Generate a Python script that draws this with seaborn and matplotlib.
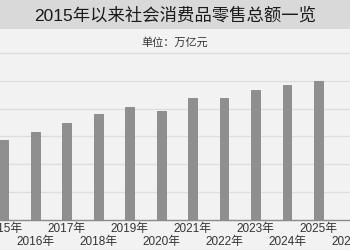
import matplotlib
matplotlib.use("Agg")
import matplotlib.pyplot as plt
import seaborn as sns
import pandas as pd
from matplotlib.patches import Rectangle

# Data (万亿元)
years = ["2015年", "2016年", "2017年", "2018年", "2019年", "2020年",
         "2021年", "2022年", "2023年", "2024年", "2025年"]
values = [28.7, 31.7, 34.7, 37.9, 40.7, 39.1, 43.9, 43.7, 46.6, 48.3, 50.0]
extra_labels = ["2026年"]
all_labels = years + extra_labels

title = "2015年以来社会消费品零售总额一览"
subtitle = "单位：万亿元"

sns.set_style("white")
plt.rcParams['font.family'] = ['Liberation Sans', 'Noto Sans CJK SC', 'DejaVu Sans']

bg = "#f2f2f2"
fig = plt.figure(figsize=(3.5, 2.5), dpi=100, facecolor=bg)

# title band
fig.patches.append(Rectangle((0, 1 - 29 / 250), 1, 29 / 250, transform=fig.transFigure,
                             facecolor="#d9d9d9", edgecolor="none", zorder=0))
fig.text(0.5, 1 - 15 / 250, title, ha="center", va="center", fontsize=12.5,
         color="#1a1a1a", fontweight="medium")
fig.text(0.5, 1 - 42 / 250, subtitle, ha="center", va="center", fontsize=8,
         color="#333333")

ax = fig.add_axes([0, 30 / 250, 1, 172.8 / 250])
ax.set_facecolor(bg)

df = pd.DataFrame({"year": years, "value": values})
sns.barplot(data=df, x="year", y="value", order=all_labels, width=0.28,
            color="#8f8f8f", saturation=1, ax=ax, zorder=3,
            edgecolor="#858585", linewidth=0.6)

ax.set_ylim(0, 62)
ax.set_xlim(-0.119, 10.552)
ax.set_yticks([10, 20, 30, 40, 50, 60])
ax.yaxis.grid(True, color="#dedede", linewidth=1)
ax.set_axisbelow(True)
ax.tick_params(axis="y", left=False, labelleft=False)

ax.set_xticks(range(len(all_labels)))
ax.set_xticklabels(all_labels, fontsize=8.5, color="#333333")
ax.tick_params(axis="x", which="major", length=0, pad=2)
for i, t in enumerate(ax.xaxis.get_major_ticks()):
    if i % 2 == 1:
        t.set_pad(11.5)
ax.set_xticks([i for i in range(len(all_labels)) if i % 2 == 1], minor=True)
ax.tick_params(axis="x", which="minor", length=8, width=1, color="#8a8a8a")

for s in ["left", "right", "top"]:
    ax.spines[s].set_visible(False)
ax.spines["bottom"].set_color("#8a8a8a")
ax.spines["bottom"].set_linewidth(1)
ax.set_xlabel("")
ax.set_ylabel("")

fig.savefig("out.png", dpi=100, facecolor=bg)
